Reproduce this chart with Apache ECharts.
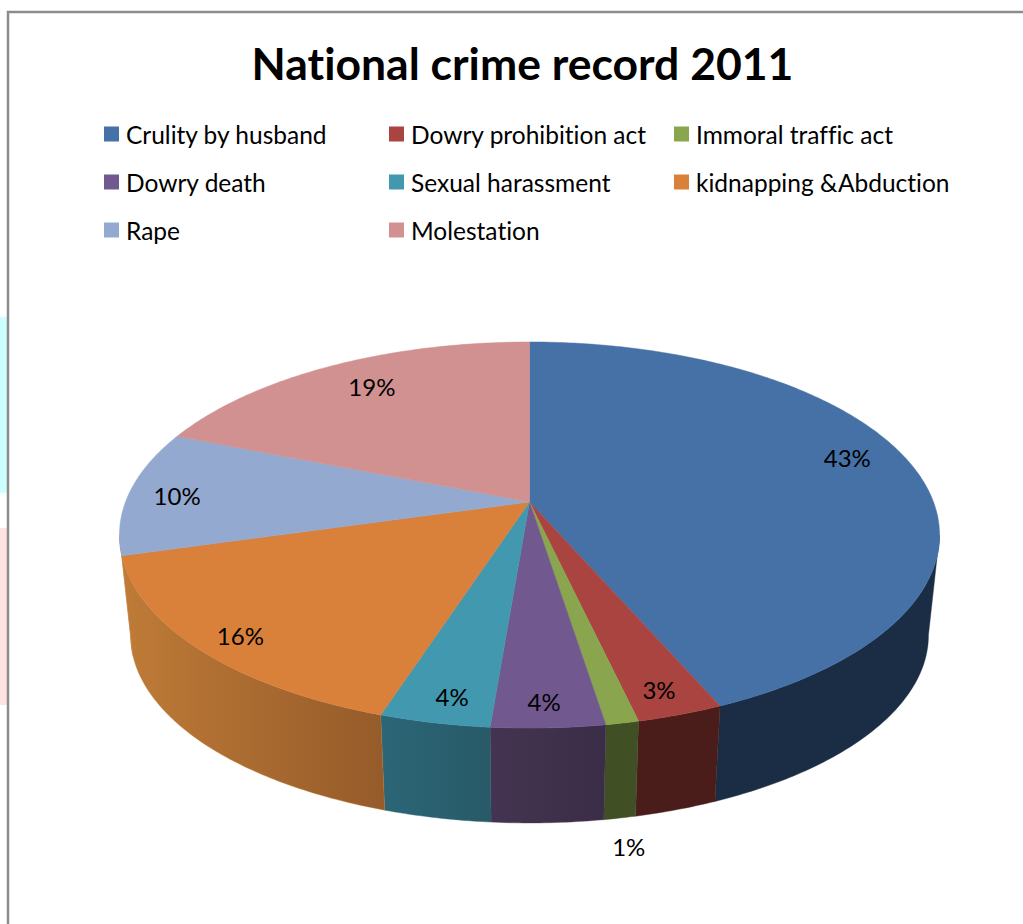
<!DOCTYPE html>
<html>
<head>
<meta charset="utf-8">
<title>National crime record 2011</title>
<style>
html,body{margin:0;padding:0;background:#fff}
#chart{width:1023px;height:924px}
#chart text{font-variant-ligatures:none}
</style>
<script src="https://cdn.jsdelivr.net/npm/echarts@6/dist/echarts.min.js"></script>
</head>
<body>
<div id="chart"></div>
<script>
// Share of each crime head, in percent, clockwise from twelve o'clock.
var categories = ['Crulity by husband', 'Dowry prohibition act', 'Immoral traffic act', 'Dowry death',
                  'Sexual harassment', 'kidnapping &Abduction', 'Rape', 'Molestation'];
var shares = [43.49, 2.9, 1.1, 3.8, 3.7, 15.6, 10.49, 18.92];

var topColors = ['#4671a6', '#a94441', '#89a54e', '#71588f', '#4198af', '#d9803b', '#93a9cf', '#d09190'];
// Side wall shading, left to right across each slice's visible rim.
var wallStops = [
  ['#1b2d44', '#1b2d44'], ['#4a1d1a', '#4a1d1a'], ['#404f24', '#404f24'], ['#443451', '#3a2d47'],
  ['#2c6677', '#285a68'], ['#bf7b37', '#955b2a'], ['#bf7b37', '#bf7b37'], ['#bf7b37', '#bf7b37']
];
// Label placement on the disc: fraction of the radius and angular shift in degrees.
var labelRadii = [0.856, 0.897, null, 0.901, 0.896, 0.9, 0.878, 0.815];
var labelShifts = [-5, 0.45, 0, 0.25, -0.85, -0.9, -0.8, 1.7];

// Perspective disc: a unit circle seen from the front, with a shallower rear half.
var CX = 529.5, APEX_Y = 502, RX = 404, RY = 187.4, K = 0.171;
var WALL_Y = 603, WALL_SCALE = 0.973;
// Rim angles where the disc outline turns from the rear half to the front half.
var TANGENT = Math.acos(-K) * 180 / Math.PI;
var total = shares.reduce(function (s, v) { return s + v; }, 0);

function rim(deg, r) {
  var t = deg * Math.PI / 180, X = Math.sin(t) * r, Y = -Math.cos(t) * r, d = 1 - K * Y;
  return [CX + RX * X / d, APEX_Y + RY * Y / d];
}
function lower(p) {
  return [CX + (p[0] - CX) * WALL_SCALE, WALL_Y + (p[1] - APEX_Y) * WALL_SCALE];
}
function arc(a0, a1) {
  var n = Math.max(2, Math.ceil((a1 - a0) * 1.5)), pts = [];
  for (var i = 0; i <= n; i++) pts.push(rim(a0 + (a1 - a0) * i / n, 1));
  return pts;
}
function startAngle(index) {
  var s = 0;
  for (var i = 0; i < index; i++) s += shares[i];
  return s / total * 360;
}

// Only the front part of the rim shows a wall, so the polygon is limited to it.
function wall(a0, a1, index) {
  var from = Math.max(a0, TANGENT), to = Math.min(a1, 360 - TANGENT);
  if (to <= from) return [];
  var top = arc(from, to);
  return [{
    type: 'polygon', z2: 1,
    shape: { points: top.concat(top.map(lower).reverse()) },
    style: {
      fill: new echarts.graphic.LinearGradient(0, 0, 1, 0, [
        { offset: 0, color: wallStops[index][0] },
        { offset: 1, color: wallStops[index][1] }
      ]),
      stroke: wallStops[index][0], lineWidth: 0.4
    }
  }];
}

function sliceRenderer(index) {
  return function (params, api) {
    var value = api.value(0);
    var a0 = startAngle(index), a1 = a0 + value / total * 360, mid = (a0 + a1) / 2;
    var pos;
    if (labelRadii[index] === null) {
      var foot = lower(rim(mid, 1));
      pos = [foot[0] + 9, foot[1] + 28];
    } else {
      pos = rim(mid + labelShifts[index], labelRadii[index]);
    }
    return {
      type: 'group',
      children: wall(a0, a1, index).concat([
        {
          type: 'polygon', z2: 2,
          shape: { points: [[CX, APEX_Y]].concat(arc(a0, a1)) },
          style: { fill: topColors[index], stroke: topColors[index], lineWidth: 0.5 }
        },
        {
          type: 'text', z2: 3,
          style: {
            text: Math.round(value / total * 100) + '%',
            x: pos[0], y: pos[1], align: 'center', verticalAlign: 'middle',
            fill: '#000', font: '24px Lato, sans-serif'
          }
        }
      ])
    };
  };
}

function legendColumn(left, names) {
  return {
    left: left, top: 114, orient: 'vertical', itemWidth: 15, itemHeight: 15, itemGap: 18,
    icon: 'rect', selectedMode: false, data: names,
    textStyle: { fontFamily: 'Lato, sans-serif', fontSize: 24.5, color: '#000', lineHeight: 30, padding: [0, 0, 0, 2] }
  };
}

var chart = echarts.init(document.getElementById('chart'), null, { renderer: 'svg' });
chart.setOption({
  animation: false,
  backgroundColor: '#fff',
  title: {
    text: 'National crime record 2011', left: 517.5, top: 35, textAlign: 'center',
    textStyle: { fontFamily: 'Lato, sans-serif', fontWeight: 'bold', fontSize: 44.5, color: '#000' }
  },
  legend: [
    legendColumn(99, [categories[0], categories[3], categories[6]]),
    legendColumn(384, [categories[1], categories[4], categories[7]]),
    legendColumn(669, [categories[2], categories[5]])
  ],
  graphic: [
    { type: 'rect', shape: { x: 0, y: 317, width: 7, height: 176 }, style: { fill: '#ccffff' } },
    { type: 'rect', shape: { x: 0, y: 528, width: 7, height: 177 }, style: { fill: '#ffe2e2' } },
    { type: 'polyline', shape: { points: [[8, 924], [8, 12], [1023, 12]] },
      style: { stroke: '#8c8c8c', lineWidth: 2.5, fill: null } }
  ],
  series: categories.map(function (name, i) {
    return {
      type: 'custom', name: name, coordinateSystem: 'none',
      itemStyle: { color: topColors[i] },
      renderItem: sliceRenderer(i),
      data: [[shares[i]]]
    };
  })
});
</script>
</body>
</html>
